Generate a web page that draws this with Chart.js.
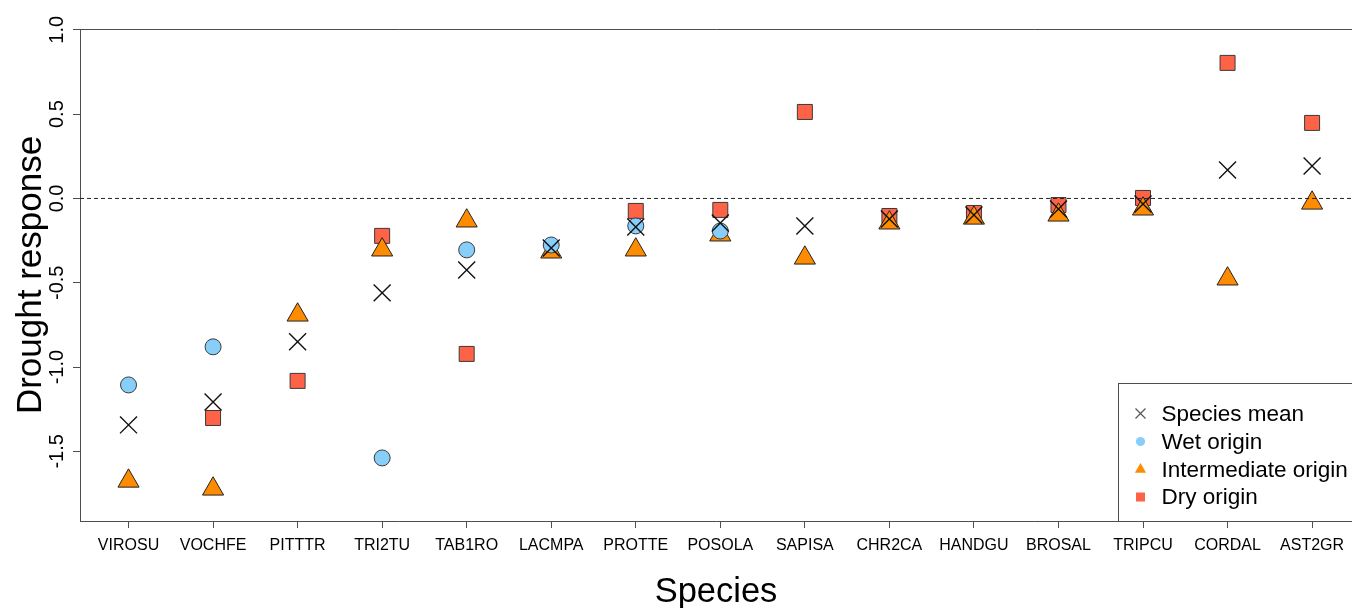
<!DOCTYPE html>
<html>
<head>
<meta charset="utf-8">
<script src="https://cdn.jsdelivr.net/npm/chart.js@4/dist/chart.umd.min.js"></script>
<style>
  html, body { margin: 0; padding: 0; background: #fff; overflow: hidden; }
  #wrap { width: 1352px; height: 608px; position: relative; }
</style>
</head>
<body>
<div id="wrap"><canvas id="c"></canvas></div>
<script>
// Species codes along the x axis
const species = ['VIROSU', 'VOCHFE', 'PITTTR', 'TRI2TU', 'TAB1RO', 'LACMPA', 'PROTTE', 'POSOLA',
                 'SAPISA', 'CHR2CA', 'HANDGU', 'BROSAL', 'TRIPCU', 'CORDAL', 'AST2GR'];

// Drought response per species (null = no population of that origin)
const speciesMean = [-1.343, -1.207, -0.850, -0.560, -0.424, -0.294, -0.169, -0.145,
                     -0.163, -0.122, -0.098, -0.062, -0.033, 0.169, 0.193];
const wetOrigin = [-1.106, -0.880, null, -1.539, -0.305, -0.276, -0.163, -0.193,
                   null, null, null, null, null, null, null];
const intermediateOrigin = [-1.676, -1.723, -0.691, -0.305, -0.133, -0.317, -0.305, -0.216,
                            -0.353, -0.145, -0.116, -0.098, -0.062, -0.477, -0.027];
const dryOrigin = [null, -1.302, -1.082, -0.222, -0.922, null, -0.074, -0.068,
                   0.513, -0.104, -0.086, -0.039, 0.003, 0.804, 0.448];

// Axis tick values and ranges (the plotting box runs past the right edge of the canvas)
const yTickValues = [-1.5, -1.0, -0.5, 0.0, 0.5, 1.0];
const xRange = [-0.574, 14.472];
const yRange = [-1.913, 1.005];
const referenceLevel = 0;

const toPoints = arr => arr.map((v, i) => (v === null ? null : { x: i, y: v })).filter(p => p);

const AXIS_COLOR = '#4d4d4d';
const EDGE = '#3a3a3a';
const FONT = '"Liberation Sans", Arial, sans-serif';

// Top edge of the plotting box
const framePlugin = {
  id: 'frame',
  afterDraw(chart) {
    const { ctx, chartArea: a } = chart;
    ctx.save();
    ctx.strokeStyle = AXIS_COLOR;
    ctx.lineWidth = 1;
    ctx.beginPath();
    ctx.moveTo(a.left, Math.round(a.top) + 0.5);
    ctx.lineTo(a.right + 10, Math.round(a.top) + 0.5);
    ctx.stroke();
    ctx.restore();
  }
};

// Boxed legend in the bottom-right corner of the plotting box
const boxLegend = {
  id: 'boxLegend',
  afterDraw(chart) {
    const { ctx, chartArea: a } = chart;
    const w = 240, h = 138;
    const x0 = Math.round(a.right - 234) + 0.5, y0 = Math.round(a.bottom - h) + 0.5;
    ctx.save();
    ctx.fillStyle = '#fff';
    ctx.fillRect(x0, y0, w, h);
    ctx.strokeStyle = AXIS_COLOR;
    ctx.lineWidth = 1;
    ctx.strokeRect(x0, y0, w, h);
    const rows = [30, 58, 86, 113.5];
    ctx.font = '22.5px ' + FONT;
    ctx.textBaseline = 'middle';
    ctx.textAlign = 'left';
    chart.data.datasets.filter(ds => ds.legendColor).forEach((ds, i) => {
      const cy = y0 + rows[i];
      const cx = x0 + 22;
      ctx.fillStyle = ds.legendColor;
      ctx.strokeStyle = ds.legendColor;
      ctx.beginPath();
      if (ds.pointStyle === 'crossRot') {
        ctx.lineWidth = 1.2;
        ctx.moveTo(cx - 5, cy - 5); ctx.lineTo(cx + 5, cy + 5);
        ctx.moveTo(cx + 5, cy - 5); ctx.lineTo(cx - 5, cy + 5);
        ctx.stroke();
      } else if (ds.pointStyle === 'circle') {
        ctx.arc(cx, cy, 4.6, 0, Math.PI * 2);
        ctx.fill();
      } else if (ds.pointStyle === 'triangle') {
        ctx.moveTo(cx, cy - 6.5); ctx.lineTo(cx + 5.6, cy + 3.3); ctx.lineTo(cx - 5.6, cy + 3.3);
        ctx.closePath();
        ctx.fill();
      } else {
        ctx.rect(cx - 4.5, cy - 4.5, 9, 9);
        ctx.fill();
      }
      ctx.fillStyle = '#000';
      ctx.fillText(ds.label, x0 + 43, cy + 1);
    });
    ctx.restore();
  }
};

new Chart(document.getElementById('c'), {
  type: 'scatter',
  data: {
    datasets: [
      {
        // dashed reference line at zero response
        type: 'line', label: 'zero',
        data: [{ x: xRange[0], y: referenceLevel }, { x: xRange[1], y: referenceLevel }],
        borderColor: '#222', borderWidth: 1, borderDash: [4, 3],
        pointRadius: 0, fill: false
      },
      {
        label: 'Species mean', data: toPoints(speciesMean),
        pointStyle: 'crossRot', pointRadius: 12, pointHoverRadius: 12,
        borderColor: '#111', backgroundColor: '#111', borderWidth: 1.4,
        legendColor: '#555'
      },
      {
        label: 'Wet origin', data: toPoints(wetOrigin),
        pointStyle: 'circle', pointRadius: 8, pointHoverRadius: 8,
        backgroundColor: '#87CEFA', borderColor: EDGE, borderWidth: 1,
        legendColor: '#87CEFA'
      },
      {
        label: 'Intermediate origin', data: toPoints(intermediateOrigin),
        pointStyle: 'triangle', pointRadius: 12.2, pointHoverRadius: 12.2,
        backgroundColor: '#FF8C00', borderColor: '#222', borderWidth: 1,
        legendColor: '#FF8C00'
      },
      {
        label: 'Dry origin', data: toPoints(dryOrigin),
        pointStyle: 'rect', pointRadius: 10.6, pointHoverRadius: 10.6,
        backgroundColor: '#FF6347', borderColor: EDGE, borderWidth: 1,
        legendColor: '#FF6347'
      }
    ]
  },
  options: {
    responsive: true,
    maintainAspectRatio: false,
    animation: false,
    events: [],
    layout: { autoPadding: false, padding: { left: 0, top: 29, right: 0, bottom: 0 } },
    plugins: { legend: { display: false }, tooltip: { enabled: false } },
    scales: {
      x: {
        type: 'linear',
        min: xRange[0],
        max: xRange[1],
        afterFit(scale) {
          scale.height = 87;
          scale.paddingLeft = 0;
          scale.paddingRight = 0;
        },
        afterBuildTicks(scale) { scale.ticks = species.map((_, i) => ({ value: i })); },
        grid: { drawOnChartArea: false, tickLength: 7, tickColor: AXIS_COLOR },
        border: { display: true, color: AXIS_COLOR, width: 1 },
        ticks: {
          autoSkip: false, maxRotation: 0, minRotation: 0, padding: 8,
          color: '#000',
          font: { family: FONT, size: 16 },
          callback: v => species[v]
        },
        title: {
          display: true, text: 'Species', color: '#000',
          font: { family: FONT, size: 34.5, lineHeight: 1 },
          padding: { top: 0, bottom: -2 }
        }
      },
      y: {
        type: 'linear',
        min: yRange[0],
        max: yRange[1],
        afterFit(scale) {
          scale.width = 80;
          scale.paddingTop = 0;
          scale.paddingBottom = 0;
        },
        afterBuildTicks(scale) { scale.ticks = yTickValues.map(v => ({ value: v })); },
        grid: { drawOnChartArea: false, tickColor: AXIS_COLOR, tickLength: 7 },
        border: { display: true, color: AXIS_COLOR, width: 1 },
        ticks: {
          minRotation: 90, maxRotation: 90, crossAlign: 'center', padding: -2,
          color: '#000',
          font: { family: FONT, size: 20 },
          callback: v => Number(v).toFixed(1)
        },
        title: {
          display: true, text: 'Drought response', color: '#000',
          font: { family: FONT, size: 35, lineHeight: 1 },
          padding: { top: 14, bottom: 0 }
        }
      }
    }
  },
  plugins: [framePlugin, boxLegend]
});
</script>
</body>
</html>
